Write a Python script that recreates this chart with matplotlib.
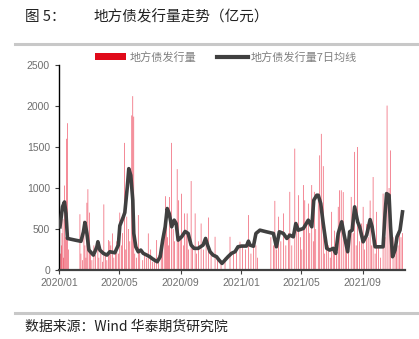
import matplotlib
matplotlib.use("Agg")
import matplotlib.pyplot as plt
from matplotlib.patches import Patch
from matplotlib.lines import Line2D
import pandas as pd

plt.rcParams['font.family'] = ['Noto Sans CJK SC', 'DejaVu Sans']

# ---- data (days since 2020-01-01, values in 亿元) ----
base_date = "2020-01-01"

bar_days = [3, 5, 6, 8, 9, 11, 13, 15, 17, 19,
            42, 44, 47, 50, 52, 54, 56, 58, 61, 63,
            66, 70, 73, 78, 80, 84, 87, 90, 93, 96, 99, 102, 104, 107, 110, 113, 116, 119,
            122, 125, 127, 131, 134, 136, 139, 142, 146, 148, 150, 152, 155, 159, 162,
            168, 172, 176, 179, 184, 188, 192, 196, 200, 205, 208, 211,
            214, 216, 218, 220, 222, 226, 229, 232, 237, 240, 243, 246, 250, 252, 255, 257, 260,
            265, 268, 273, 276, 280, 285, 290, 295, 300, 305, 313, 318,
            325, 333, 343, 350, 356, 363, 368, 374,
            380, 385, 390, 395, 398, 425, 430,
            433, 436, 440, 445, 450, 455, 460, 463, 467, 473, 477, 480, 484, 487, 490, 493,
            496, 500, 503, 507, 510, 512, 515, 520,
            523, 526, 530, 533, 537, 540, 544, 547, 550, 553, 557, 560, 563, 566, 570, 574,
            577, 581, 586, 590, 593, 596, 599,
            603, 607, 610, 613, 617, 620, 624, 627, 630, 634, 637, 641, 645, 650, 654,
            658, 662, 665, 670, 674, 677, 680, 683, 686, 689]
bar_values = [200, 300, 450, 620, 150, 1030, 400, 1600, 1790, 250,
              680, 200, 120, 600, 300, 150, 820, 985, 700, 250,
              120, 300, 180, 283, 150, 250, 100, 800, 200, 120, 365, 350, 300, 446, 150, 250, 350, 200,
              700, 300, 450, 1550, 250, 650, 500, 350, 1885, 2120, 1870, 200, 150, 670, 250,
              120, 200, 150, 446, 250, 100, 150, 365, 180, 300, 350, 450,
              900, 550, 400, 300, 890, 1550, 500, 350, 1230, 850, 400, 930, 300, 690, 450, 690, 250,
              1085, 300, 690, 200, 350, 567, 250, 400, 640, 200, 405, 150,
              100, 150, 405, 200, 250, 345, 300, 250,
              670, 200, 330, 300, 150, 400, 300,
              843, 250, 650, 350, 690, 300, 450, 953, 300, 1480, 500, 912, 400, 250, 1036, 850,
              600, 810, 450, 1036, 350, 953, 500, 912,
              1398, 1660, 1266, 200, 300, 300, 150, 709, 250, 480, 350, 770, 972, 972, 950, 400,
              300, 250, 891, 450, 1440, 300, 1500,
              350, 567, 770, 250, 560, 400, 847, 300, 1134, 200, 709, 300, 150, 932, 400,
              2005, 1000, 1458, 400, 250, 350, 300, 500, 400, 450]

line_days = [2, 7, 11, 14, 17, 32, 44, 49, 52, 56, 60, 69, 76, 78, 82, 89, 96, 102, 112, 119,
             122, 129, 132, 137, 140, 144, 148, 150, 154, 159, 164, 169, 176, 182, 189, 197,
             203, 208, 213, 217, 221, 226, 231, 235, 239, 246, 253, 259, 265, 271, 279, 289,
             294, 298, 303, 309, 316, 321, 327, 333, 339, 346, 353, 359, 366, 376, 380, 383,
             390, 395, 403, 416, 430, 436, 442, 450, 457, 463, 470, 475, 480, 490, 500, 507,
             511, 517, 520, 525, 530, 537, 543, 550, 555, 560, 567, 572, 579, 583, 588, 593,
             599, 603, 610, 617, 624, 628, 634, 644, 650, 654, 657, 662, 665, 669, 674, 678,
             684, 689]
line_values = [527, 770, 830, 690, 385, 365, 350, 465, 580, 445, 243, 182, 283, 345, 243, 203,
               182, 223, 210, 304, 540, 648, 700, 1012, 1236, 1154, 851, 446, 283, 222, 243, 203,
               182, 162, 130, 101, 162, 365, 527, 750, 690, 527, 608, 567, 365, 405, 470, 446,
               304, 264, 264, 304, 385, 304, 223, 182, 162, 122, 81, 122, 162, 203, 223, 283,
               292, 292, 352, 304, 290, 446, 486, 466, 446, 283, 466, 446, 385, 425, 405, 567,
               486, 506, 608, 527, 851, 912, 912, 810, 567, 264, 243, 264, 203, 446, 588, 425,
               223, 466, 486, 770, 588, 527, 344, 425, 615, 527, 283, 283, 283, 690, 932, 912,
               527, 162, 243, 405, 486, 709]

tick_labels = ["2020/01", "2020/05", "2020/09", "2021/01", "2021/05", "2021/09"]
y_ticks = [0, 500, 1000, 1500, 2000, 2500]

bar_label = "地方债发行量"
line_label = "地方债发行量7日均线"

# ---- figure ----
fig = plt.figure(figsize=(4.19, 3.39), dpi=100)
ax = fig.add_axes([0.1408, 0.2035, 0.8258, 0.6048])

b0 = pd.Timestamp(base_date)
bar_dates = b0 + pd.to_timedelta(bar_days, unit="D")
line_dates = b0 + pd.to_timedelta(line_days, unit="D")

bars = ax.bar(bar_dates, bar_values, width=1.2, color="#E8102A", linewidth=0, alpha=0.8, zorder=1)
for p in bars:
    p.set_snap(False)
ax.plot(line_dates, line_values, color="#404040", linewidth=2.6, zorder=3, solid_joinstyle="round")

ax.set_xlim(b0, b0 + pd.Timedelta(days=694))
ax.set_ylim(0, 2500)
ax.set_yticks(y_ticks)
tick_dates = pd.to_datetime([t.replace("/", "-") + "-01" for t in tick_labels])
ax.set_xticks(tick_dates)
ax.set_xticklabels(tick_labels)

for s in ["top", "right"]:
    ax.spines[s].set_visible(False)
ax.spines["left"].set_color("#000000")
ax.spines["left"].set_linewidth(1.0)
ax.spines["bottom"].set_color("#404040")
ax.spines["bottom"].set_linewidth(1.6)
ax.tick_params(axis="both", direction="out", length=3, width=0.8, colors="#404040",
               labelcolor="#6e6e6e", labelsize=7.5)
for lab in ax.get_xticklabels() + ax.get_yticklabels():
    lab.set_family(["Liberation Sans", "DejaVu Sans"])
ax.tick_params(axis="x", pad=3)

# legend
handles = [Patch(facecolor="#E00A1A", edgecolor="none"),
           Line2D([0], [0], color="#404040", linewidth=3)]
fig.legend(handles, [bar_label, line_label], loc="center", bbox_to_anchor=(0.54, 0.832),
           ncol=2, frameon=False, fontsize=8, handlelength=2.8, handleheight=0.7,
           columnspacing=1.8, handletextpad=0.3, labelcolor="#808080")

# title, separator lines, source
fig.text(0.06, 0.95, "图 5：", fontsize=10.5, color="#222222", va="center", ha="left")
fig.text(0.222, 0.95, "地方债发行量走势（亿元）", fontsize=10.5, color="#222222", va="center", ha="left")
fig.add_artist(Line2D([0.036, 1.0], [0.870, 0.870], color="#c8c8c8", linewidth=2.2))
fig.add_artist(Line2D([0.036, 1.0], [0.077, 0.077], color="#c8c8c8", linewidth=2.2))
fig.text(0.06, 0.035, "数据来源：Wind 华泰期货研究院", fontsize=10, color="#222222", va="center", ha="left")

fig.savefig("out.png", dpi=100)
